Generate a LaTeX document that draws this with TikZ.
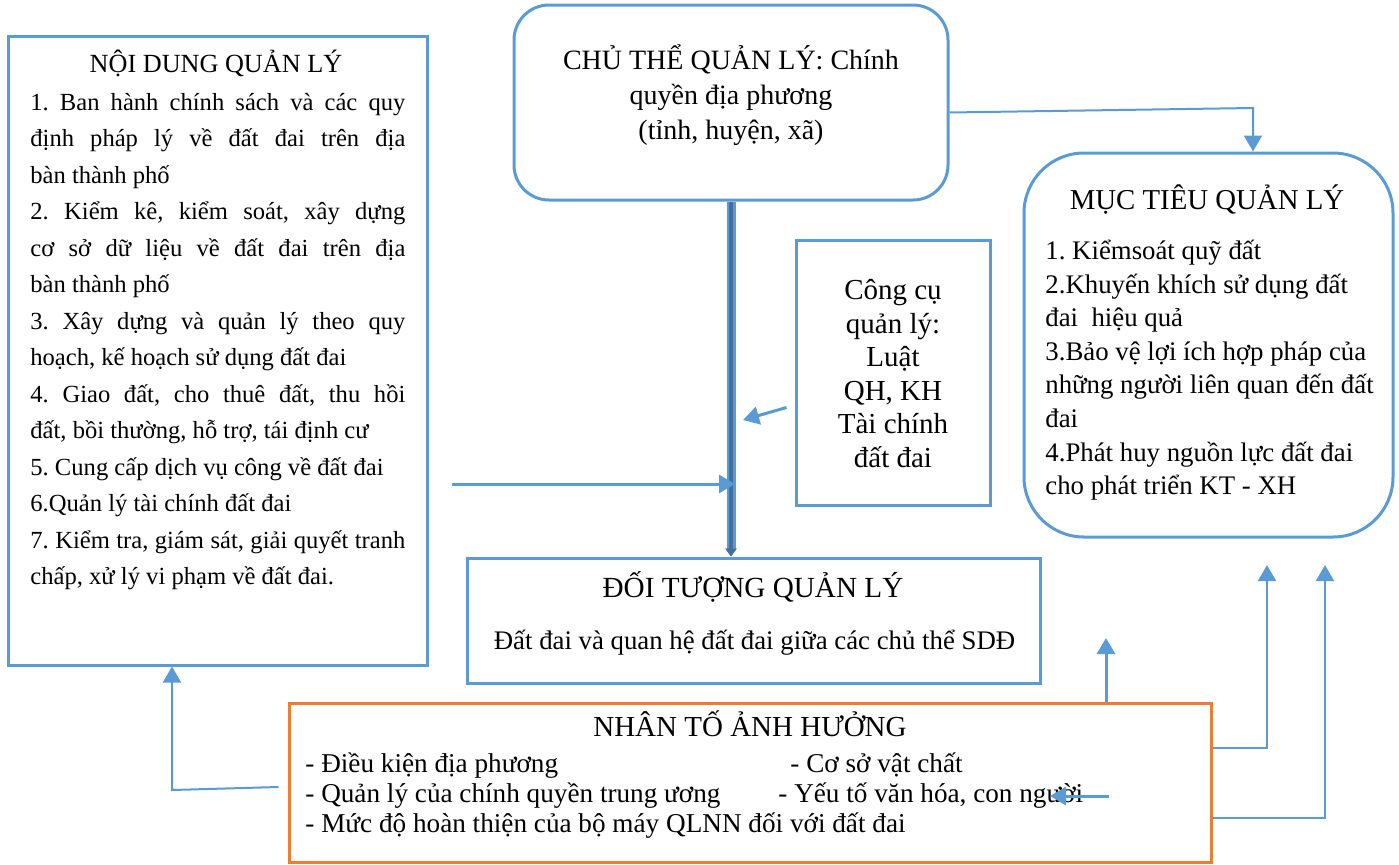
\documentclass[tikz,border=0pt]{standalone}
\usepackage{fontspec}
\setmainfont{Liberation Serif}
\usetikzlibrary{arrows.meta}
\definecolor{boxblue}{HTML}{5B9BD5}
\definecolor{darkblue}{HTML}{41719C}
\definecolor{boxorange}{HTML}{ED7D31}
\setlength{\parindent}{0pt}
\frenchspacing

\begin{document}
\begin{tikzpicture}[x=0.5pt, y=-0.5pt]
  \tikzstyle{panel}=[draw=boxblue, line width=1.5pt, inner sep=0pt]
  \tikzstyle{roundpanel}=[panel, rounded corners=17.5pt]
  \tikzstyle{txt}=[inner sep=0pt]
  \tikzstyle{link}=[draw=boxblue, line width=1.5pt, -{Triangle[width=9pt, length=8pt]}]
  \tikzstyle{thinlink}=[link, line width=1pt]
  \tikzstyle{spine}=[draw=darkblue, line width=2.2pt, -{Triangle[width=5.5pt, length=4pt]}, preaction={draw=boxblue, line width=4.5pt}]

  \useasboundingbox (0, 0) rectangle (1399, 864);

  \node (nd) at (217.5, 350.5) [panel, minimum width=209.5pt, minimum height=314.5pt] {};
  \node (chu) at (731, 102.5) [roundpanel, minimum width=217pt, minimum height=97.5pt] {};
  \node (cc) at (893, 372.5) [panel, minimum width=97pt, minimum height=132.5pt] {};
  \node (muc) at (1208.5, 345) [roundpanel, rounded corners=30pt, minimum width=184.5pt, minimum height=192pt] {};
  \node (dt) at (753.5, 620.5) [panel, minimum width=286.5pt, minimum height=62.5pt] {};
  \node (nt) at (750, 782.5) [panel, draw=boxorange, minimum width=461pt, minimum height=79.5pt] {};

  \node (ndtitle) at (216, 72) [txt, anchor=base, font=\fontsize{13.1}{16}\selectfont] {NỘI DUNG QUẢN LÝ};
  \node (ndlist) at (30, 84.5) [txt, anchor=north west, text width=187.5pt, align=justify, font=\fontsize{12.3}{18.25}\selectfont]
    {\strut 1. Ban hành chính sách và các quy\linebreak định pháp lý về đất đai trên địa\linebreak bàn thành phố\par
     2. Kiểm kê, kiểm soát, xây dựng\linebreak cơ sở dữ liệu về đất đai trên địa\linebreak bàn thành phố\par
     3. Xây dựng và quản lý theo quy\linebreak hoạch, kế hoạch sử dụng đất đai\par
     4. Giao đất, cho thuê đất, thu hồi\linebreak đất, bồi thường, hỗ trợ, tái định cư\par
     5. Cung cấp dịch vụ công về đất đai\par
     6.Quản lý tài chính đất đai\par
     7. Kiểm tra, giám sát, giải quyết tranh\linebreak chấp, xử lý vi phạm về đất đai.\par};

  \node (chutext) at (731, 44.5) [txt, anchor=north, align=center, font=\fontsize{14}{17.5}\selectfont]
    {\strut CHỦ THỂ QUẢN LÝ: Chính\\quyền địa phương\\(tỉnh, huyện, xã)};

  \node (cctext) at (893, 276) [txt, anchor=north, align=center, font=\fontsize{14.5}{16.75}\selectfont]
    {\strut Công cụ\\quản lý:\\Luật\\QH, KH\\Tài chính\\đất đai};

  \node (muctitle) at (1207, 209.5) [txt, anchor=base, font=\fontsize{14.4}{17}\selectfont] {MỤC TIÊU QUẢN LÝ};
  \node (muclist) at (1045, 235.5) [txt, anchor=north west, align=left, font=\fontsize{13.4}{16.8}\selectfont]
    {\strut 1. Kiểmsoát quỹ đất\\2.Khuyến khích sử dụng đất\\đai\ \ hiệu quả\\3.Bảo vệ lợi ích hợp pháp của\\những người liên quan đến đất\\đai\\4.Phát huy nguồn lực đất đai\\cho phát triển KT - XH};

  \node (dttitle) at (753, 597.5) [txt, anchor=base, font=\fontsize{14.6}{17}\selectfont] {ĐỐI TƯỢNG QUẢN LÝ};
  \node (dtsub) at (754.5, 649) [txt, anchor=base, font=\fontsize{13.4}{16}\selectfont] {Đất đai và quan hệ đất đai giữa các chủ thể SDĐ};

  \node (nttitle) at (750, 736.5) [txt, anchor=base, font=\fontsize{14.5}{17}\selectfont] {NHÂN TỐ ẢNH HƯỞNG};
  \node (ntlist) at (305, 751) [txt, anchor=north west, align=left, font=\fontsize{13.6}{15}\selectfont]
    {\strut\makebox[242.5pt][l]{- Điều kiện địa phương}- Cơ sở vật chất\\\makebox[236.5pt][l]{- Quản lý của chính quyền trung ương}- Yếu tố văn hóa, con người\\- Mức độ hoàn thiện của bộ máy QLNN đối với đất đai};

  \coordinate (chubend) at (1253, 108);
  \coordinate (spinehitA) at (743, 420);
  \coordinate (spinehitB) at (735, 484);
  \coordinate (ntbend) at (172, 790);
  \coordinate (ntupA) at (1106, 638);
  \coordinate (ntupB) at (1267, 565);
  \coordinate (ntupC) at (1325, 565);
  \coordinate (ntleft) at (1050, 796);

  \draw[spine] (chu.south) -- (chu.south |- dt.north);
  \draw[thinlink] (chu.east) ++(0, 10) -- (chubend) -- (chubend |- muc.north);
  \draw[link] (cc.west) ++(-8, 35) -- (spinehitA);
  \draw[link] (nd.east) ++(23, 133.5) -- (spinehitB);
  \draw[thinlink] (nt.west) ++(-9, 4.5) -- (ntbend) -- (ntbend |- nd.south);
  \draw[link] (nt.north -| ntupA) -- (ntupA);
  \draw[thinlink] (nt.east) ++(0, -34.5) -| (ntupB);
  \draw[thinlink] (nt.east) ++(0, 35.5) -| (ntupC);
  \draw[link] (nt.east) ++(-104, 13.5) -- (ntleft);
\end{tikzpicture}
\end{document}
